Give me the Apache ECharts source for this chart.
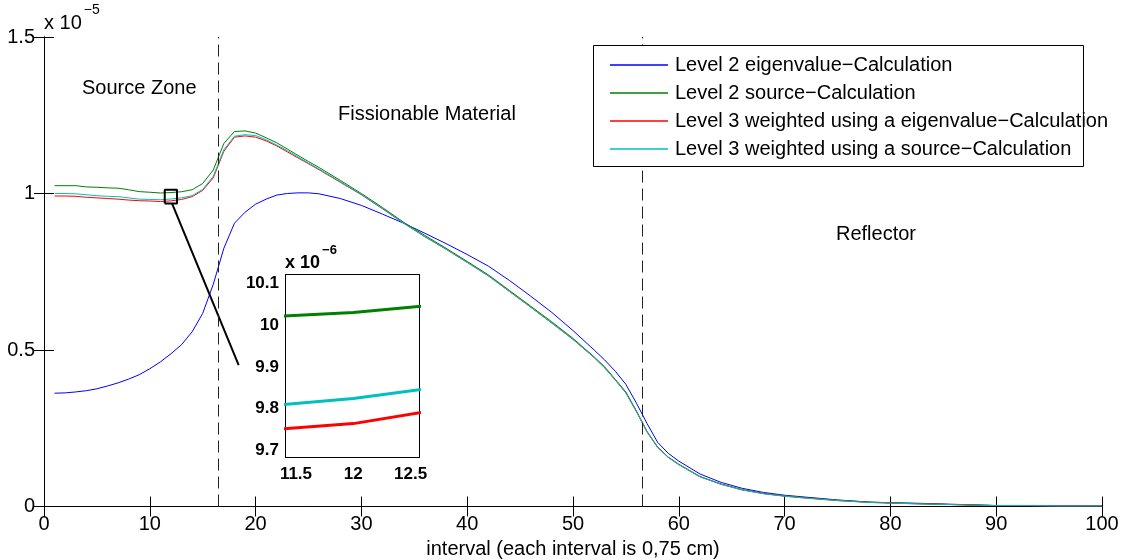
<!DOCTYPE html>
<html>
<head>
<meta charset="utf-8">
<script src="https://cdn.jsdelivr.net/npm/echarts@6/dist/echarts.min.js"></script>
<style>
  html, body { margin: 0; padding: 0; background: #fff; }
  #chart { width: 1124px; height: 560px; }
</style>
</head>
<body>
<div id="chart"></div>
<script>
// Interval positions (each interval is 0.75 cm)
const intervals = [1,2,3,4,5,6,7,8,9,10,11,12,13,14,15,16,17,18,19,20,21,22,23,24,25,26,28,30,32,34,36,38,40,42,44,46,48,50,52,53,54,55,56,57,58,59,60,62,64,66,68,70,72,75,78,80,83,86,88,90,93,96,100];

// Flux values in units of 1e-5
const level2Eigen = [0.362,0.363,0.366,0.370,0.376,0.385,0.395,0.407,0.421,0.440,0.462,0.488,0.517,0.558,0.617,0.710,0.825,0.905,0.940,0.966,0.982,0.995,1.000,1.002,1.002,0.999,0.984,0.962,0.934,0.905,0.873,0.840,0.805,0.768,0.722,0.672,0.620,0.562,0.500,0.468,0.432,0.390,0.330,0.265,0.205,0.170,0.145,0.104,0.077,0.058,0.045,0.036,0.030,0.021,0.014,0.012,0.010,0.007,0.005,0.003,0.003,0.002,0.002];
const level2Source = [1.025,1.025,1.025,1.021,1.020,1.018,1.017,1.012,1.006,1.004,1.0016,1.003,1.0056,1.012,1.032,1.075,1.160,1.198,1.200,1.193,1.178,1.162,1.142,1.122,1.102,1.083,1.042,1.000,0.955,0.908,0.866,0.825,0.783,0.740,0.690,0.640,0.590,0.537,0.478,0.446,0.406,0.366,0.305,0.240,0.190,0.158,0.135,0.096,0.072,0.054,0.042,0.034,0.028,0.020,0.014,0.012,0.009,0.006,0.005,0.003,0.003,0.002,0.002];
const level3Eigen = [0.992,0.992,0.991,0.988,0.986,0.984,0.982,0.979,0.977,0.976,0.9744,0.9764,0.9809,0.990,1.010,1.050,1.135,1.180,1.184,1.180,1.168,1.152,1.133,1.114,1.095,1.076,1.036,0.996,0.951,0.905,0.862,0.822,0.780,0.737,0.687,0.637,0.586,0.534,0.476,0.443,0.404,0.363,0.303,0.238,0.189,0.157,0.134,0.095,0.071,0.053,0.041,0.033,0.027,0.019,0.013,0.011,0.008,0.006,0.004,0.003,0.003,0.002,0.002];
const level3Source = [1.000,1.000,0.999,0.996,0.993,0.991,0.990,0.986,0.982,0.981,0.980,0.9824,0.9861,0.993,1.013,1.055,1.140,1.183,1.188,1.185,1.172,1.155,1.137,1.117,1.097,1.078,1.038,0.997,0.952,0.905,0.862,0.822,0.780,0.737,0.687,0.637,0.586,0.534,0.476,0.443,0.404,0.363,0.303,0.238,0.189,0.157,0.134,0.095,0.071,0.053,0.041,0.033,0.027,0.019,0.013,0.011,0.008,0.006,0.004,0.003,0.003,0.002,0.002];

const seriesNames = [
  'Level 2 eigenvalue\u2212Calculation',
  'Level 2 source\u2212Calculation',
  'Level 3 weighted using a eigenvalue\u2212Calculation',
  'Level 3 weighted using a source\u2212Calculation'
];
const seriesColors = ['#0000ff', '#008000', '#ff0000', '#00bfbf'];
const seriesValues = [level2Eigen, level2Source, level3Eigen, level3Source];

// Region boundaries and labels
const boundaries = [16.5, 56.5];
const insetXTicks = [11.5, 12, 12.5];
const insetYTicks = [0.97, 0.98, 0.99, 1.00, 1.01];
const insetRange = { xMin: 11.413, xMax: 12.573, yMin: 0.9684, yMax: 1.012 };
const connector = [[12.1, 0.9684], [18.4, 0.452]];

const FONT = '"Liberation Sans", Arial, Helvetica, sans-serif';
const pairs = vals => intervals.map((x, i) => [x, vals[i]]);

const mainSeries = seriesValues.map((vals, i) => ({
  name: seriesNames[i],
  type: 'line',
  xAxisIndex: 0, yAxisIndex: 0,
  data: pairs(vals),
  symbol: 'none',
  color: seriesColors[i],
  lineStyle: { width: 1, color: seriesColors[i] },
  z: 2
}));

mainSeries[0].markLine = {
  silent: true,
  symbol: 'none',
  label: { show: false },
  lineStyle: { type: [12, 6], color: '#222', width: 1 },
  data: boundaries.map(b => ({ xAxis: b }))
};

const insetSeries = seriesValues.slice(1).map((vals, i) => ({
  name: 'inset-' + i,
  type: 'line',
  xAxisIndex: 2, yAxisIndex: 2,
  data: pairs(vals),
  symbol: 'none',
  clip: true,
  lineStyle: { width: 3, color: seriesColors[i + 1] },
  z: 6
}));

const boxSeries = {
  name: 'zoom-box',
  type: 'line',
  xAxisIndex: 0, yAxisIndex: 0,
  data: [[insetRange.xMin, insetRange.yMin], [insetRange.xMax, insetRange.yMin],
         [insetRange.xMax, insetRange.yMax], [insetRange.xMin, insetRange.yMax],
         [insetRange.xMin, insetRange.yMin]],
  symbol: 'none', silent: true,
  lineStyle: { width: 2, color: '#000' }, z: 3
};
const connectorSeries = {
  name: 'zoom-link',
  type: 'line',
  xAxisIndex: 0, yAxisIndex: 0,
  data: connector,
  symbol: 'none', silent: true,
  lineStyle: { width: 2, color: '#000' }, z: 3
};

const axisText = { color: '#000', fontFamily: FONT, fontSize: 20 };
const insetText = { color: '#000', fontFamily: FONT, fontSize: 17, fontWeight: 'bold' };
const line1 = { show: true, lineStyle: { color: '#000', width: 1 } };
const line2 = { show: true, lineStyle: { color: '#000', width: 2 } };

const chart = echarts.init(document.getElementById('chart'), null, { renderer: 'canvas' });
chart.setOption({
  backgroundColor: '#fff',
  animation: false,
  grid: [
    { left: 44, right: 22, top: 37, bottom: 53.5, outerBoundsMode: 'none', containLabel: false },
    { left: 286, top: 275, width: 133, height: 182, z: 5, backgroundColor: '#fff', show: true, borderWidth: 0,
      outerBoundsMode: 'none', containLabel: false }
  ],
  legend: {
    data: seriesNames.map((n, i) => ({ name: n, icon: 'rect', itemStyle: { color: seriesColors[i] } })),
    orient: 'vertical',
    left: 605, top: 50,
    itemWidth: 58, itemHeight: 1.5, itemGap: 8,
    textStyle: { color: '#000', fontFamily: FONT, fontSize: 20, padding: [0, 0, 0, 2] },
    selectedMode: false,
    z: 10
  },
  xAxis: [
    { type: 'value', gridIndex: 0, min: 0, max: 100, interval: 10, position: 'bottom',
      axisLine: line1, axisTick: { inside: true, length: 10, lineStyle: { color: '#000' } },
      axisLabel: Object.assign({ margin: 8 }, axisText), splitLine: { show: false },
      name: 'interval (each interval is 0,75 cm)', nameLocation: 'middle', nameGap: 33,
      nameTextStyle: axisText },
    { type: 'value', gridIndex: 0, min: 0, max: 100, interval: 10, position: 'top',
      axisLine: line1, axisTick: { inside: true, length: 10, lineStyle: { color: '#000' } },
      axisLabel: { show: false }, splitLine: { show: false } },
    { type: 'value', gridIndex: 1, min: insetRange.xMin, max: insetRange.xMax, position: 'bottom',
      axisLine: line2,
      axisTick: { inside: true, length: 4, customValues: insetXTicks, lineStyle: { color: '#000', width: 1.5 } },
      axisLabel: Object.assign({ customValues: insetXTicks, margin: 9,
        formatter: v => String(+v.toFixed(1)) }, insetText),
      splitLine: { show: false } },
    { type: 'value', gridIndex: 1, min: insetRange.xMin, max: insetRange.xMax, position: 'top',
      axisLine: line2,
      axisTick: { inside: true, length: 4, customValues: insetXTicks, lineStyle: { color: '#000', width: 1.5 } },
      axisLabel: { show: false }, splitLine: { show: false } }
  ],
  yAxis: [
    { type: 'value', gridIndex: 0, min: 0, max: 1.5, interval: 0.5, position: 'left',
      axisLine: line1, axisTick: { inside: true, length: 10, lineStyle: { color: '#000' } },
      axisLabel: Object.assign({ margin: 9 }, axisText), splitLine: { show: false } },
    { type: 'value', gridIndex: 0, min: 0, max: 1.5, interval: 0.5, position: 'right',
      axisLine: line1, axisTick: { inside: true, length: 10, lineStyle: { color: '#000' } },
      axisLabel: { show: false }, splitLine: { show: false } },
    { type: 'value', gridIndex: 1, min: insetRange.yMin, max: insetRange.yMax, position: 'left',
      axisLine: line2,
      axisTick: { inside: true, length: 4, customValues: insetYTicks, lineStyle: { color: '#000', width: 1.5 } },
      axisLabel: Object.assign({ customValues: insetYTicks, margin: 7,
        formatter: v => String(+(v * 10).toFixed(1)) }, insetText),
      splitLine: { show: false } },
    { type: 'value', gridIndex: 1, min: insetRange.yMin, max: insetRange.yMax, position: 'right',
      axisLine: line2,
      axisTick: { inside: true, length: 4, customValues: insetYTicks, lineStyle: { color: '#000', width: 1.5 } },
      axisLabel: { show: false }, splitLine: { show: false } }
  ],
  graphic: [
    { type: 'rect', z: 8, shape: { x: 593.5, y: 45.5, width: 490, height: 121 },
      style: { fill: '#fff', stroke: '#000', lineWidth: 1 } },
    { type: 'text', left: 44, top: 3, z: 10,
      style: { text: '{b|x 10}{s|\u22125}', rich: {
        b: { fontFamily: FONT, fontSize: 20, fill: '#000', verticalAlign: 'bottom', lineHeight: 30 },
        s: { fontFamily: FONT, fontSize: 14, fill: '#000', verticalAlign: 'top', lineHeight: 30, padding: [0, 0, 14, 2] } } } },
    { type: 'text', left: 82, top: 78, z: 10,
      style: { text: 'Source Zone', fontFamily: FONT, fontSize: 20, fill: '#000' } },
    { type: 'text', left: 338, top: 104, z: 10,
      style: { text: 'Fissionable Material', fontFamily: FONT, fontSize: 20, fill: '#000' } },
    { type: 'text', left: 836, top: 224, z: 10,
      style: { text: 'Reflector', fontFamily: FONT, fontSize: 20, fill: '#000' } },
    { type: 'text', left: 285, top: 244, z: 10,
      style: { text: '{b|x 10}{s|\u22126}', rich: {
        b: { fontFamily: FONT, fontSize: 18, fontWeight: 'bold', fill: '#000', verticalAlign: 'bottom', lineHeight: 28 },
        s: { fontFamily: FONT, fontSize: 13, fontWeight: 'bold', fill: '#000', verticalAlign: 'top', lineHeight: 28, padding: [0, 0, 12, 2] } } } }
  ],
  series: mainSeries.concat([boxSeries, connectorSeries]).concat(insetSeries)
});
</script>
</body>
</html>
